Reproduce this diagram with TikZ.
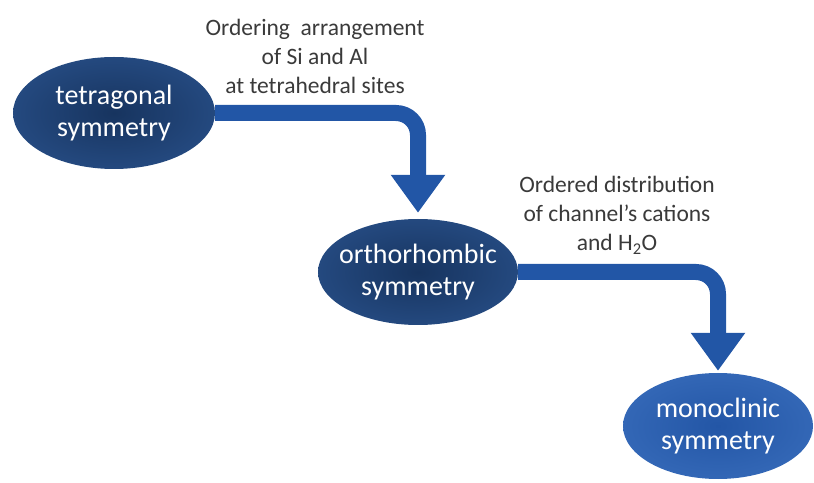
\documentclass[tikz,border=0pt]{standalone}
\usepackage{fontspec}
\setmainfont{Carlito}
\usetikzlibrary{arrows.meta,shapes.geometric}
\definecolor{navyin}{HTML}{17345F}
\definecolor{navyout}{HTML}{24497F}
\definecolor{bluein}{HTML}{2356A6}
\definecolor{blueout}{HTML}{3367B6}
\definecolor{arrowblue}{HTML}{2256A6}
\definecolor{notegray}{HTML}{3A3A3A}

\begin{document}
\begin{tikzpicture}[x=1pt,y=1pt]
  \tikzset{symnode/.style={ellipse, inner xsep=-30pt, inner ysep=-12pt, align=center, text=white,
      font=\fontsize{28}{32}\selectfont, inner color=navyin, outer color=navyout}};
  \tikzset{flowarrow/.style={-{Triangle[width=52pt,length=38pt]}, draw=arrowblue,
      line width=16pt, rounded corners=22pt}};
  \tikzset{notelabel/.style={align=center, text=notegray, font=\fontsize{23.5}{29}\selectfont}};
  \useasboundingbox (0,0) rectangle (814,482);

  \node[symnode, minimum width=202pt, minimum height=112pt] (tet) at (114,369) {tetragonal\\symmetry};
  \node[symnode, minimum width=200pt, minimum height=106pt] (ortho) at (418,210) {orthorhombic\\symmetry};
  \node[symnode, minimum width=190pt, minimum height=106pt, inner color=bluein,
        outer color=blueout] (mono) at (718,56) {monoclinic\\symmetry};

  \node[notelabel] (ordSi) at (315,426) {Ordering\ \ arrangement\\of Si and Al\\at tetrahedral sites};
  \node[notelabel] (ordH) at (617,267) {Ordered distribution\\of channel's cations\\and H\textsubscript{2}O};

  \draw[flowarrow, shorten >=6pt] (tet.east) -| (ortho.north);
  \draw[flowarrow, shorten >=2pt] (ortho.east) -| (mono.north);
\end{tikzpicture}
\end{document}
